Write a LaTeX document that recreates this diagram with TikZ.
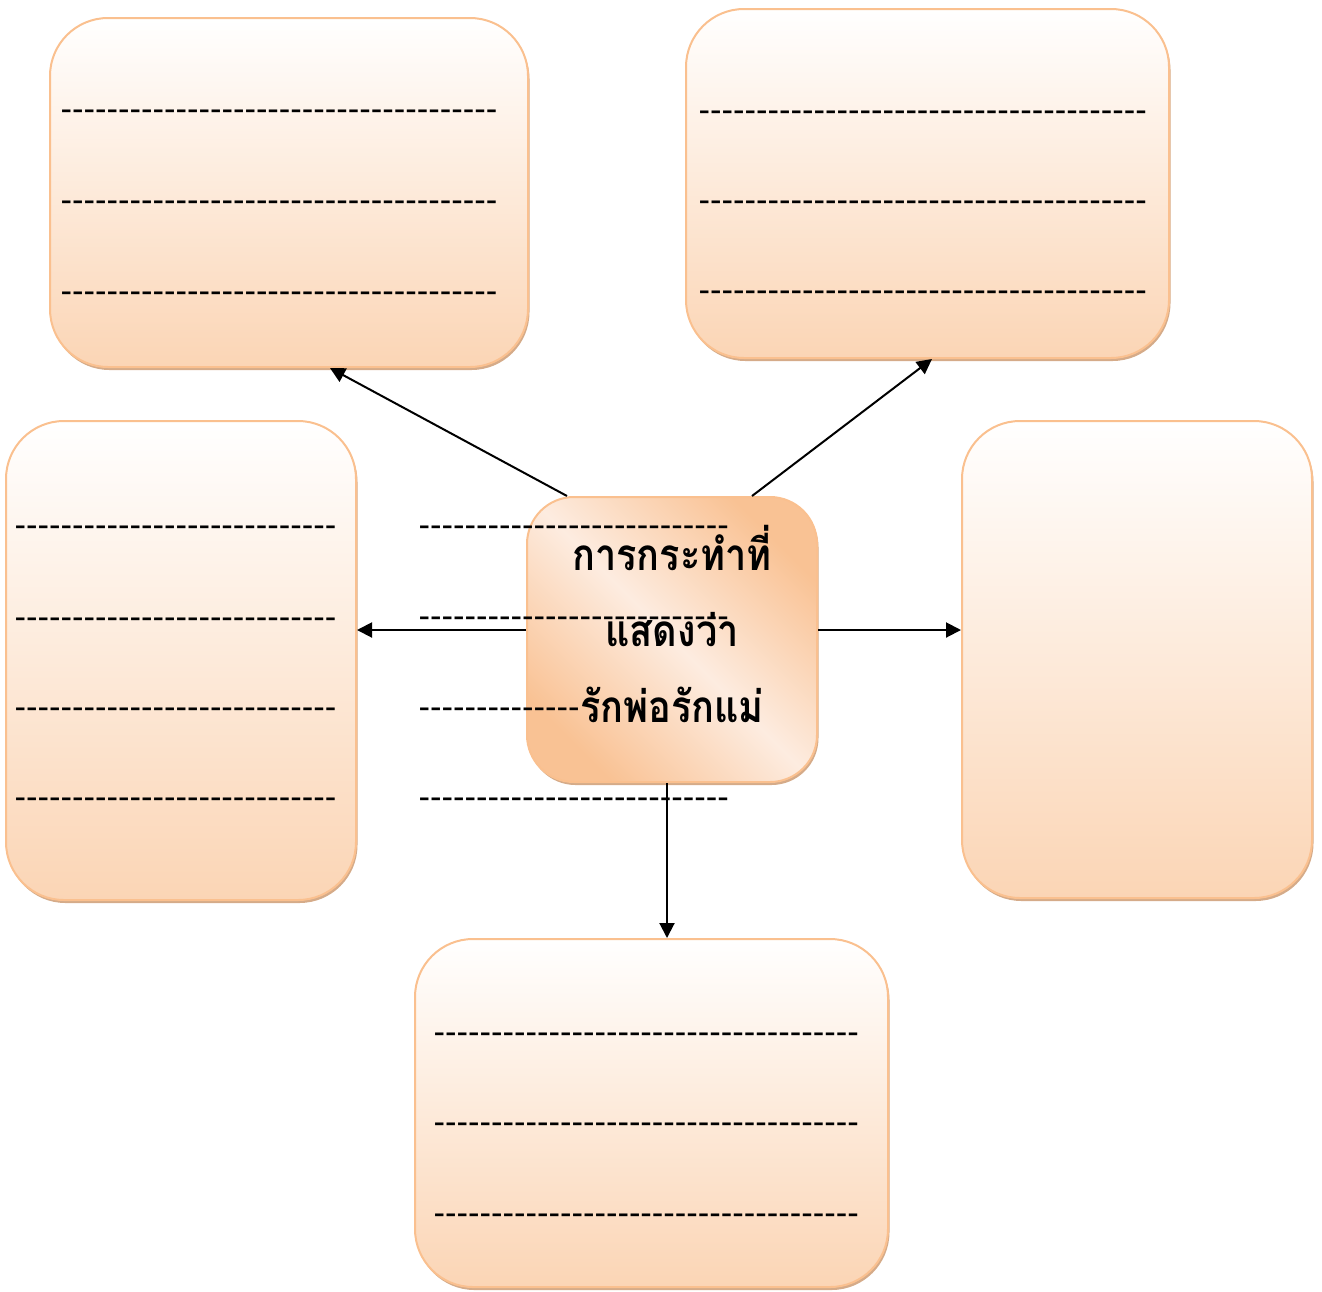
\documentclass[tikz,border=0pt]{standalone}
\usepackage{fontspec}
\newfontfamily\thaifont[Script=Thai,FakeStretch=0.86]{Loma}
\newfontfamily\dashfont{Liberation Sans}
\usetikzlibrary{arrows.meta,shadows}
\definecolor{boxline}{RGB}{250,192,143}
\definecolor{boxbot}{RGB}{251,213,181}
\definecolor{shadowc}{RGB}{208,162,124}
\definecolor{corn}{RGB}{249,194,148}
\definecolor{midc}{RGB}{253,236,224}
\newcount\dashcnt
\newcommand\dashrun[1]{\dashcnt=0 \loop -\kern0pt\advance\dashcnt by 1 \ifnum\dashcnt<#1 \repeat}
\begin{document}
\begin{tikzpicture}[x=1pt,y=-1pt,
  card/.style={draw=boxline,line width=2pt,rounded corners=58pt,
    top color=white,bottom color=boxbot,inner sep=0pt,
    drop shadow={shadow xshift=1.5pt,shadow yshift=-3pt,fill=shadowc,opacity=0.9}},
  cbox/.style={draw=boxline,line width=2pt,rounded corners=47pt,
    left color=corn,right color=corn,middle color=midc,shading angle=-45,
    drop shadow={shadow xshift=1.5pt,shadow yshift=-3pt,fill=shadowc,opacity=0.9},
    align=center,inner sep=0pt,text depth=32pt,
    font=\thaifont\bfseries\fontsize{44}{76}\selectfont},
  dashrow/.style={anchor=base west,inner sep=0pt,font=\dashfont\fontsize{34.5}{40}\selectfont},
  arr/.style={line width=2pt,-{Triangle[length=15pt,width=15pt]}}]
\useasboundingbox (0,0) rectangle (1322,1291);

\node[card,minimum width=478pt,minimum height=349pt] (tl) at (289,192.5) {};
\node[card,minimum width=483pt,minimum height=349pt] (tr) at (927.5,183.5) {};
\node[card,minimum width=350pt,minimum height=479pt] (l) at (181,660.5) {};
\node[card,minimum width=350pt,minimum height=477pt] (r) at (1137,659.5) {};
\node[card,minimum width=473pt,minimum height=348pt] (b) at (651.5,1113) {};
\node[cbox,minimum width=290pt,minimum height=285pt] (c) at (672,639.5)
  {การกระทำที่\\แสดงว่า\\รักพ่อรักแม่};

% dash rows
\node[dashrow] (tl1) at (60.5,120) {\dashrun{38}};
\node[dashrow] (tl2) at (60.5,211) {\dashrun{38}};
\node[dashrow] (tl3) at (60.5,302) {\dashrun{38}};
\node[dashrow] (tr1) at (698.5,121) {\dashrun{39}};
\node[dashrow] (tr2) at (698.5,211) {\dashrun{39}};
\node[dashrow] (tr3) at (698.5,301) {\dashrun{39}};
\node[dashrow] (l1) at (14.5,536) {\dashrun{28}};
\node[dashrow] (l2) at (14.5,628) {\dashrun{28}};
\node[dashrow] (l3) at (14.5,718) {\dashrun{28}};
\node[dashrow] (l4) at (14.5,808) {\dashrun{28}};
\node[dashrow] (m1) at (418.5,536) {\dashrun{27}};
\node[dashrow] (m2) at (418.5,627) {\dashrun{27}};
\node[dashrow] (m3) at (418.5,718) {\dashrun{14}};
\node[dashrow] (m4) at (418.5,808) {\dashrun{27}};
\node[dashrow] (b1) at (433.5,1043) {\dashrun{37}};
\node[dashrow] (b2) at (433.5,1133) {\dashrun{37}};
\node[dashrow] (b3) at (433.5,1224) {\dashrun{37}};

% connectors
\draw[arr] ([xshift=-105pt]c.north) -- ([xshift=41pt]tl.south);
\draw[arr] ([xshift=80pt]c.north) -- ([xshift=4.5pt]tr.south);
\draw[arr] ([yshift=9.5pt]c.west) -- ([yshift=9.5pt]c.west -| l.east);
\draw[arr] ([yshift=9.5pt]c.east) -- ([yshift=9.5pt]c.east -| r.west);
\draw[arr] ([xshift=-5pt]c.south) -- ([xshift=-5pt]c.south |- b.north);
\end{tikzpicture}
\end{document}
